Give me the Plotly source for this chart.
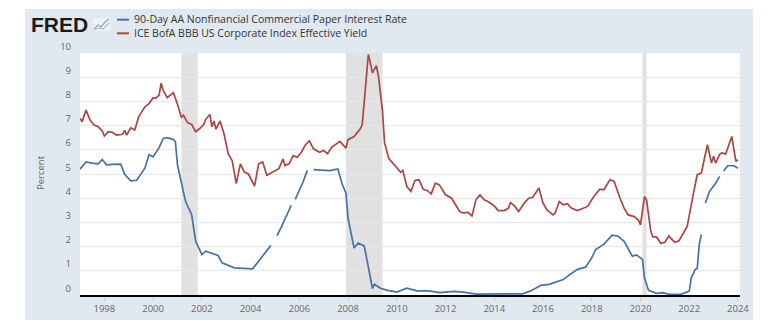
import plotly.graph_objects as go

# ---- Data ----
cp_dates = ["1997-01","1997-04","1997-07","1997-10","1997-12","1998-02","1998-05","1998-09","1998-11",
            "1999-02","1999-05","1999-09","1999-11","2000-01","2000-04","2000-06","2000-08","2000-11","2000-12",
            "2001-01","2001-05","2001-08","2001-10","2002-01","2002-03","2002-09","2002-11","2003-05",
            "2004-02","2004-05","2004-11","2004-12","2005-02","2005-04","2005-09","2005-10","2005-11",
            "2006-03","2006-05","2006-06","2006-08","2007-04","2007-08","2007-10","2007-12",
            "2008-01","2008-04","2008-06","2008-09","2008-11","2009-01","2009-02","2009-05","2009-08",
            "2010-01","2010-06","2010-11","2011-05","2011-10","2012-05","2012-10","2013-04","2014-01",
            "2015-03","2015-07","2015-12","2016-04","2016-11","2017-01","2017-06","2017-10",
            "2018-01","2018-03","2018-07","2018-11","2019-02","2019-05","2019-09","2019-11",
            "2020-02","2020-03","2020-05","2020-09","2020-12","2021-03","2021-09",
            "2022-01","2022-02","2022-04","2022-05","2022-06","2022-07","2022-08","2022-09","2022-11",
            "2023-02","2023-04","2023-05","2023-06","2023-08","2023-11","2024-01"]
cp_values = [5.2,5.5,5.45,5.42,5.6,5.38,5.4,5.41,4.99,
             4.72,4.74,5.24,5.8,5.71,6.09,6.47,6.5,6.43,6.33,
             5.38,3.87,3.32,2.22,1.67,1.81,1.63,1.33,1.12,
             1.08,1.4,2.05,None,2.45,2.77,3.7,None,3.95,
             4.69,5.15,None,5.18,5.14,5.21,4.62,4.21,
             3.18,1.94,2.15,2.02,1.12,0.27,0.44,0.28,0.2,
             0.12,0.28,0.17,0.17,0.1,0.15,0.12,0.04,0.04,
             0.05,0.17,0.4,0.44,0.64,0.77,1.06,1.15,
             1.54,1.88,2.09,2.47,2.43,2.22,1.6,1.66,
             1.47,0.71,0.19,0.07,0.1,0.03,0.03,
             0.16,0.71,1.06,1.1,2.09,2.5,None,3.8,4.28,
             4.62,4.9,None,5.13,5.34,5.34,5.24]

bbb_dates = ["1997-01","1997-02","1997-04","1997-06","1997-08","1997-10","1997-12","1998-01","1998-03",
             "1998-05","1998-07","1998-10","1998-11","1998-12","1999-02","1999-04","1999-06","1999-07",
             "1999-09","1999-11","2000-01","2000-02","2000-04","2000-05","2000-06","2000-08","2000-11",
             "2001-01","2001-03","2001-04","2001-06","2001-08","2001-10","2001-12","2002-02","2002-03",
             "2002-05","2002-06","2002-07","2002-08","2002-10","2002-12","2003-02","2003-04","2003-06",
             "2003-08","2003-10","2003-12","2004-03","2004-05","2004-07","2004-09","2004-12","2005-03",
             "2005-05","2005-06","2005-08","2005-10","2005-12","2006-02","2006-04","2006-06","2006-08",
             "2006-11","2007-01","2007-03","2007-05","2007-09","2007-12","2008-01","2008-04","2008-07",
             "2008-08","2008-11","2008-12","2009-01","2009-03","2009-04","2009-06","2009-07","2009-09",
             "2010-01","2010-03","2010-04","2010-06","2010-08","2010-10","2010-12","2011-02","2011-04",
             "2011-06","2011-08","2011-10","2012-01","2012-04","2012-08","2012-10","2012-12","2013-02",
             "2013-04","2013-06","2013-08","2013-10","2014-01","2014-03","2014-06","2014-08","2014-09",
             "2014-11","2015-01","2015-04","2015-06","2015-08","2015-11","2016-01","2016-03","2016-06",
             "2016-07","2016-09","2016-11","2017-01","2017-03","2017-06","2017-11","2018-02","2018-05",
             "2018-07","2018-10","2018-12","2019-03","2019-05","2019-07","2019-10","2019-12","2020-01",
             "2020-03","2020-04","2020-06","2020-07","2020-09","2020-11","2021-01","2021-03","2021-04",
             "2021-06","2021-08","2021-10","2021-12","2022-03","2022-05","2022-07","2022-10","2022-12",
             "2023-01","2023-02","2023-04","2023-05","2023-07","2023-10","2023-12","2024-01"]
bbb_values = [7.3,7.16,7.64,7.23,7.02,6.95,6.78,6.57,6.75,
              6.72,6.61,6.64,6.8,6.61,6.91,6.82,7.37,7.5,
              7.78,7.91,8.15,8.12,8.26,8.75,8.45,8.15,8.36,
              7.88,7.33,7.43,7.12,7.05,6.75,6.88,7.05,7.26,
              7.46,6.95,7.19,6.85,7.19,6.64,5.83,5.55,4.6,
              5.42,5.08,5.0,4.5,5.42,5.5,4.95,5.08,5.22,
              5.62,5.35,5.42,5.76,5.69,5.9,6.2,6.37,6.04,
              5.9,5.97,5.84,6.1,6.35,6.07,6.42,6.55,6.86,
              7.04,9.94,9.59,9.18,9.48,9.04,7.6,6.3,5.65,
              5.25,5.07,5.15,4.48,4.28,4.73,4.76,4.37,4.32,
              4.18,4.62,4.55,4.14,4.0,3.45,3.38,3.42,3.27,
              3.93,4.14,3.93,3.86,3.68,3.49,3.49,3.59,3.82,
              3.68,3.45,3.82,4.0,4.04,4.42,3.8,3.52,3.31,
              3.38,3.86,3.73,3.77,3.59,3.49,3.66,4.07,4.37,
              4.35,4.76,4.7,4.0,3.59,3.31,3.24,3.1,2.9,
              4.07,3.93,2.69,2.41,2.39,2.14,2.18,2.44,2.34,
              2.18,2.24,2.55,2.83,4.14,4.97,5.04,6.21,5.45,
              5.73,5.45,5.8,5.87,5.83,6.55,5.52,5.59]

recession_starts = ["2001-03-01", "2007-12-01", "2020-02-01"]
recession_ends = ["2001-11-01", "2009-06-01", "2020-04-01"]

series_names = ["90-Day AA Nonfinancial Commercial Paper Interest Rate",
                "ICE BofA BBB US Corporate Index Effective Yield"]
series_colors = ["#4572a7", "#aa4643"]
y_ticks = list(range(0, 11))

# ---- Figure ----
fig = go.Figure()
fig.add_trace(go.Scatter(x=cp_dates, y=cp_values, mode="lines", name=series_names[0],
                         line=dict(color=series_colors[0], width=1.7), connectgaps=False,
                         showlegend=False))
fig.add_trace(go.Scatter(x=bbb_dates, y=bbb_values, mode="lines", name=series_names[1],
                         line=dict(color=series_colors[1], width=1.7), showlegend=False))

W, H = 770, 328
L, R, T, B = 80, 30, 53, 33
pw, ph = W - L - R, H - T - B

def px(xp):
    return (xp - L) / pw

def py(yp):
    return (H - B - yp) / ph

legend_font = 10.5
legend_center = 26.5
line_gap = legend_font * 1.3
legend_y = [legend_center - line_gap / 2, legend_center + line_gap / 2]

shapes = []
# background panel
shapes.append(dict(type="rect", xref="paper", yref="paper", x0=px(25), x1=px(753), y0=py(320), y1=py(9),
                   fillcolor="#e1e9f0", line=dict(width=0), layer="below"))
# white plot area
shapes.append(dict(type="rect", xref="paper", yref="paper", x0=0, x1=1, y0=0, y1=1,
                   fillcolor="white", line=dict(width=0), layer="below"))
# recessions
for s, e in zip(recession_starts, recession_ends):
    shapes.append(dict(type="rect", xref="x", yref="paper", x0=s, x1=e, y0=0, y1=1,
                       fillcolor="#e1e1e1", line=dict(width=0), layer="between"))
# legend line samples
for i, c in enumerate(series_colors):
    yy = py(legend_y[i])
    shapes.append(dict(type="line", xref="paper", yref="paper", x0=px(117), x1=px(129), y0=yy, y1=yy,
                       line=dict(color=c, width=2)))
# FRED icon
shapes.append(dict(type="rect", xref="paper", yref="paper", x0=px(93), x1=px(110), y0=py(31), y1=py(18),
                   fillcolor="#eef2f6", line=dict(width=0)))
shapes.append(dict(type="path", xref="paper", yref="paper",
                   path="M {},{} L {},{} L {},{} L {},{} L {},{}".format(
                       px(94), py(29), px(98), py(25), px(101), py(27), px(105), py(22), px(109), py(19)),
                   line=dict(color="#8fa8c8", width=1.3)))
shapes.append(dict(type="path", xref="paper", yref="paper",
                   path="M {},{} L {},{} L {},{} L {},{}".format(
                       px(94), py(30), px(99), py(28), px(103), py(29), px(109), py(23)),
                   line=dict(color="#b0b8b0", width=1.1)))

annotations = []
annotations.append(dict(text="<b>FRED</b>", xref="paper", yref="paper", x=px(29), y=py(25),
                        xanchor="left", yanchor="middle", showarrow=False,
                        font=dict(family="Liberation Sans", size=21, color="#1a1a1a")))
annotations.append(dict(text="<br>".join(series_names), xref="paper", yref="paper", x=px(132),
                        y=py(legend_center), xanchor="left", yanchor="middle", align="left",
                        showarrow=False,
                        font=dict(family="Open Sans", size=legend_font, color="#333333")))
annotations.append(dict(text="Percent", xref="paper", yref="paper", x=px(40), y=py(173),
                        xanchor="center", yanchor="middle", showarrow=False, textangle=-90,
                        font=dict(family="Open Sans", size=9.5, color="#666666")))

fig.update_layout(
    width=W, height=H, margin=dict(l=L, r=R, t=T, b=B, autoexpand=False),
    paper_bgcolor="white", plot_bgcolor="rgba(0,0,0,0)",
    shapes=shapes, annotations=annotations, showlegend=False,
    xaxis=dict(type="date", range=["1997-01-01", "2024-02-01"], tick0="1998-01-01", dtick="M24",
               tickformat="%Y", showgrid=False, zeroline=False, showline=True, linecolor="black",
               linewidth=2, ticks="outside", ticklen=4, tickcolor="#cccccc",
               tickfont=dict(family="Open Sans", size=9.5, color="#666666")),
    yaxis=dict(range=[0, 10], tickvals=y_ticks, showgrid=True, gridcolor="#e8e8e8", gridwidth=1,
               zeroline=False, showline=False, ticks="", ticklabelposition="outside top",
               ticklabelstandoff=8,
               tickfont=dict(family="Open Sans", size=9.5, color="#666666")),
)

fig.write_html("out.html")
